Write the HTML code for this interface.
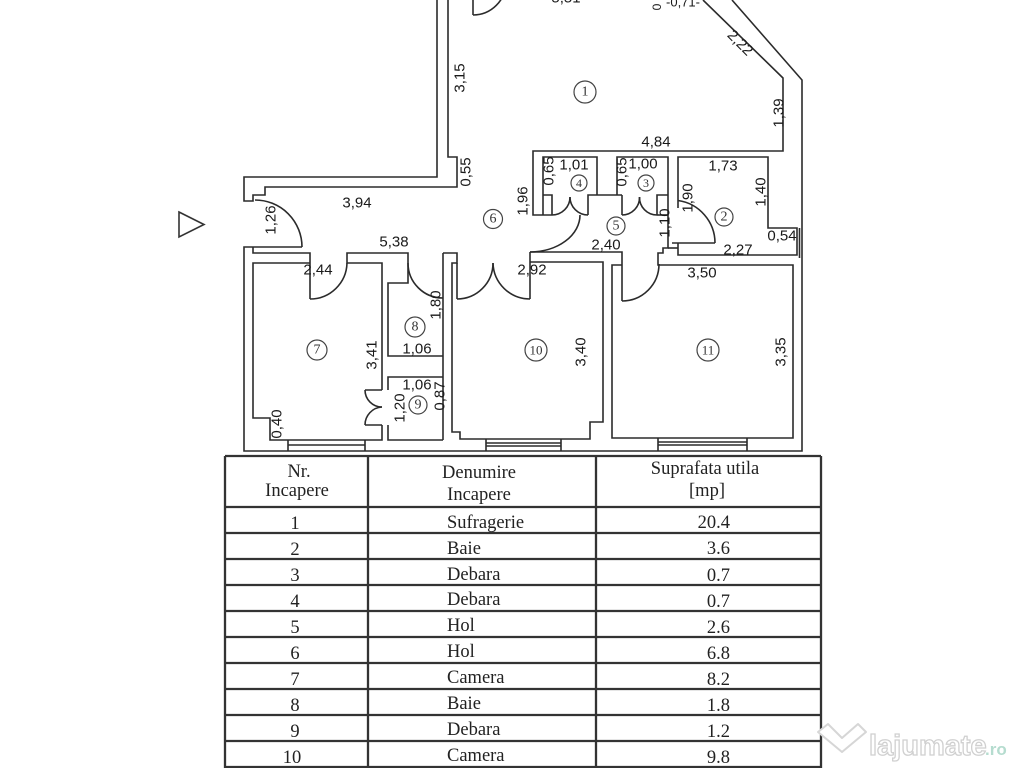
<!DOCTYPE html>
<html>
<head>
<meta charset="utf-8">
<style>
html,body{margin:0;padding:0;background:#fff;}
body{width:1024px;height:768px;overflow:hidden;position:relative;}
svg{position:absolute;left:0;top:0;}
.w{fill:none;stroke:#2b2b2b;stroke-width:1.6;stroke-linejoin:miter;}
.d{font-family:"Liberation Sans",sans-serif;font-size:15px;fill:#1a1a1a;text-anchor:middle;dominant-baseline:central;}
.c{fill:none;stroke:#444;stroke-width:1.2;}
.cn{font-family:"Liberation Serif",serif;font-size:14px;fill:#333;text-anchor:middle;dominant-baseline:central;}
.tl{fill:none;stroke:#333;stroke-width:2.3;}
.th{font-family:"Liberation Serif",serif;font-size:18.5px;fill:#222;text-anchor:middle;}
.tn{font-family:"Liberation Serif",serif;font-size:18.5px;fill:#222;}
</style>
</head>
<body>
<svg width="1024" height="768" viewBox="0 0 1024 768" xmlns="http://www.w3.org/2000/svg">
<!-- Walls -->
<g class="w">
  <!-- top-left wing -->
  <path d="M437,0 V177 H244 V201 H253 V195 H265 V187 H457 V157 H448 V0"/>
  <!-- entrance door -->
  <path d="M255,200 A47,47 0 0 1 302,247"/>
  <!-- outer perimeter -->
  <path d="M302,247 H244 V451 H802 V80 L732,0"/>
  <!-- room 1 inner diagonal and bottom -->
  <path d="M703,0 L783,78 V151 H533 V215 H552"/>
  <!-- top door -->
  <path d="M473,0 V15"/>
  <path d="M473,15 A33,33 0 0 0 506,-18"/>

  <!-- room 4 -->
  <path d="M543,215 V157 H597 V195"/>
  <path d="M543,195 H552 V215"/>
  <path d="M552,215 A18,18 0 0 0 570,197"/>
  <path d="M588,215 A18,18 0 0 1 570,197"/>
  <path d="M588,215 V195 H622"/>
  <!-- room 3 -->
  <path d="M617,195 V157 H668 V248 H663 V253 H658 V265 H793 V438 H612 V265 H622"/>
  <path d="M622,195 V215"/>
  <path d="M622,215 A17.5,17.5 0 0 0 639.5,197"/>
  <path d="M657,215 A17.5,17.5 0 0 1 639.5,197"/>
  <path d="M657,215 V195 H668"/>
  <path d="M657,215 H668"/>

  <!-- room 2 -->
  <path d="M678,208 V157 H768 V228 H797 V255 H678 V243"/>
  <path d="M672,243 H715"/>
  <path d="M678,200.5 A43,43 0 0 1 715,243"/>
  <path d="M668,248 H678"/>
  <path d="M799.5,228 V258"/>

  <!-- hall 6 -> 5 door -->
  <path d="M580,215 A50,37 0 0 1 530,252"/>
  <!-- hall 5 bottom & room 11 door -->
  <path d="M530,252 H622 V301"/>
  <path d="M622,301 A37,37 0 0 0 659,264"/>

  <!-- room 10 -->
  <path d="M443,253 H457 V263 H452 V432 H460 V439 H590 V422 H603 V262 H530"/>
  <path d="M530,252 V299"/>
  <path d="M457,263 V299"/>
  <path d="M457,299 A36,36 0 0 0 493,263"/>
  <path d="M530,299 A37,37 0 0 1 493,263"/>

  <!-- room 7 -->
  <path d="M253,247 V253 H310 V299"/>
  <path d="M310,299 A37,37 0 0 0 347,263"/>
  <path d="M310,263 H253 V418 H270 V440 H382 V425"/>
  <path d="M382,390 V263 H347 V253 H408 V283 H388 V356 H443"/>
  <!-- room 8 door -->
  <path d="M408,263 A35,35 0 0 0 443,298"/>
  <path d="M443,253 V440"/>
  <!-- room 9 -->
  <path d="M443,377 H388 V390"/>
  <path d="M388,425 V440 H443"/>
  <path d="M382,390 H365"/>
  <path d="M382,425 H365"/>
  <path d="M365,390 A17,17 0 0 0 382,407"/>
  <path d="M365,425 A18,18 0 0 1 382,407"/>

  <!-- windows -->
  <path d="M288,440 V451 M365,440 V451 M288,445 H365"/>
  <path d="M486,439 V451 M561,439 V451 M486,443 H561 M486,446 H561"/>
  <path d="M658,438 V451 M747,438 V451 M658,442 H747 M658,445 H747"/>
</g>

<!-- entrance triangle -->
<path d="M179,212 L204,224.5 L179,237 Z" fill="none" stroke="#333" stroke-width="1.6"/>

<!-- dimension labels -->
<g>
  <text class="d" x="566" y="-2">5,51</text>
  <text class="d" x="0" y="0" font-size="13" transform="translate(657,7) rotate(-90)" style="font-size:12px">0</text>
  <text class="d" x="683" y="2" style="font-size:13px">-0,71-</text>
  <text class="d" transform="translate(460,78) rotate(-90)">3,15</text>
  <text class="d" transform="translate(466,172) rotate(-90)">0,55</text>
  <text class="d" transform="translate(740,43) rotate(45)">2,22</text>
  <text class="d" transform="translate(779,113) rotate(-90)">1,39</text>
  <text class="d" x="656" y="142">4,84</text>
  <text class="d" x="357" y="203">3,94</text>
  <text class="d" transform="translate(271,220) rotate(-90)">1,26</text>
  <text class="d" x="394" y="242">5,38</text>
  <text class="d" transform="translate(523,201) rotate(-90)">1,96</text>
  <text class="d" transform="translate(549,171) rotate(-90)">0,65</text>
  <text class="d" x="574" y="165">1,01</text>
  <text class="d" transform="translate(622,172) rotate(-90)">0,65</text>
  <text class="d" x="643" y="164">1,00</text>
  <text class="d" x="723" y="166">1,73</text>
  <text class="d" transform="translate(761,192) rotate(-90)">1,40</text>
  <text class="d" transform="translate(688,198) rotate(-90)">1,90</text>
  <text class="d" transform="translate(665,223) rotate(-90)">1,10</text>
  <text class="d" x="606" y="245">2,40</text>
  <text class="d" x="782" y="236">0,54</text>
  <text class="d" x="738" y="250">2,27</text>
  <text class="d" x="318" y="270">2,44</text>
  <text class="d" x="532" y="270">2,92</text>
  <text class="d" x="702" y="273">3,50</text>
  <text class="d" transform="translate(436,305) rotate(-90)">1,80</text>
  <text class="d" transform="translate(372,355) rotate(-90)">3,41</text>
  <text class="d" x="417" y="349">1,06</text>
  <text class="d" x="417" y="385">1,06</text>
  <text class="d" transform="translate(440,396) rotate(-90)">0,87</text>
  <text class="d" transform="translate(400,408) rotate(-90)">1,20</text>
  <text class="d" transform="translate(277,424) rotate(-90)">0,40</text>
  <text class="d" transform="translate(581,352) rotate(-90)">3,40</text>
  <text class="d" transform="translate(781,352) rotate(-90)">3,35</text>
</g>

<!-- circled room numbers -->
<g>
  <circle class="c" cx="585" cy="92" r="11"/><text class="cn" x="585" y="92">1</text>
  <circle class="c" cx="579" cy="183" r="8"/><text class="cn" x="579" y="183" style="font-size:12px">4</text>
  <circle class="c" cx="646" cy="183" r="8"/><text class="cn" x="646" y="183" style="font-size:12px">3</text>
  <circle class="c" cx="493" cy="219" r="9.5"/><text class="cn" x="493" y="219">6</text>
  <circle class="c" cx="616" cy="226" r="9"/><text class="cn" x="616" y="226">5</text>
  <circle class="c" cx="724" cy="217" r="9"/><text class="cn" x="724" y="217">2</text>
  <circle class="c" cx="415" cy="327" r="10"/><text class="cn" x="415" y="327">8</text>
  <circle class="c" cx="317" cy="350" r="10"/><text class="cn" x="317" y="350">7</text>
  <circle class="c" cx="418" cy="405" r="9"/><text class="cn" x="418" y="405">9</text>
  <circle class="c" cx="536" cy="350" r="11"/><text class="cn" x="536" y="350" style="font-size:13px">10</text>
  <circle class="c" cx="708" cy="350" r="11"/><text class="cn" x="708" y="350" style="font-size:13px">11</text>
</g>

<!-- table -->
<g class="tl">
  <path d="M225,456 H821 M225,507 H821 M225,533 H821 M225,559 H821 M225,585 H821 M225,611 H821 M225,637 H821 M225,663 H821 M225,689 H821 M225,715 H821 M225,741 H821 M225,767 H821"/>
  <path d="M225,456 V768 M368,456 V768 M596,456 V768 M821,456 V768"/>
</g>
<g>
  <text class="th" x="299" y="477">Nr.</text>
  <text class="th" x="297" y="496">Incapere</text>
  <text class="th" x="479" y="478">Denumire</text>
  <text class="th" x="479" y="500">Incapere</text>
  <text class="th" x="705" y="474">Suprafata utila</text>
  <text class="th" x="707" y="496">[mp]</text>

  <text class="th" x="295" y="529">1</text>
  <text class="th" x="295" y="555">2</text>
  <text class="th" x="295" y="581">3</text>
  <text class="th" x="295" y="607">4</text>
  <text class="th" x="295" y="633">5</text>
  <text class="th" x="295" y="659">6</text>
  <text class="th" x="295" y="685">7</text>
  <text class="th" x="295" y="711">8</text>
  <text class="th" x="295" y="737">9</text>
  <text class="th" x="292" y="763">10</text>

  <text class="tn" x="447" y="528">Sufragerie</text>
  <text class="tn" x="447" y="554">Baie</text>
  <text class="tn" x="447" y="580">Debara</text>
  <text class="tn" x="447" y="605">Debara</text>
  <text class="tn" x="447" y="631">Hol</text>
  <text class="tn" x="447" y="657">Hol</text>
  <text class="tn" x="447" y="683">Camera</text>
  <text class="tn" x="447" y="709">Baie</text>
  <text class="tn" x="447" y="735">Debara</text>
  <text class="tn" x="447" y="761">Camera</text>

  <text class="th" x="730" y="528" text-anchor="end" style="text-anchor:end">20.4</text>
  <text class="th" x="730" y="554" style="text-anchor:end">3.6</text>
  <text class="th" x="730" y="581" style="text-anchor:end">0.7</text>
  <text class="th" x="730" y="607" style="text-anchor:end">0.7</text>
  <text class="th" x="730" y="633" style="text-anchor:end">2.6</text>
  <text class="th" x="730" y="659" style="text-anchor:end">6.8</text>
  <text class="th" x="730" y="685" style="text-anchor:end">8.2</text>
  <text class="th" x="730" y="711" style="text-anchor:end">1.8</text>
  <text class="th" x="730" y="737" style="text-anchor:end">1.2</text>
  <text class="th" x="730" y="763" style="text-anchor:end">9.8</text>
</g>

<!-- watermark -->
<g>
  <path d="M818,732 L828,724 L842,738 L858,724 L866,732 L842,752 Z" fill="#fff" stroke="#d6d6d6" stroke-width="2" stroke-linejoin="round"/>
  <text x="869" y="755" style="font-family:'Liberation Sans',sans-serif;font-weight:bold;font-size:29px;fill:#fff;stroke:#d0d0d0;stroke-width:1.3">lajumate</text>
  <text x="985" y="755" style="font-family:'Liberation Sans',sans-serif;font-weight:bold;font-size:17px;fill:#b5dccf;">.ro</text>
</g>
</svg>
</body>
</html>
